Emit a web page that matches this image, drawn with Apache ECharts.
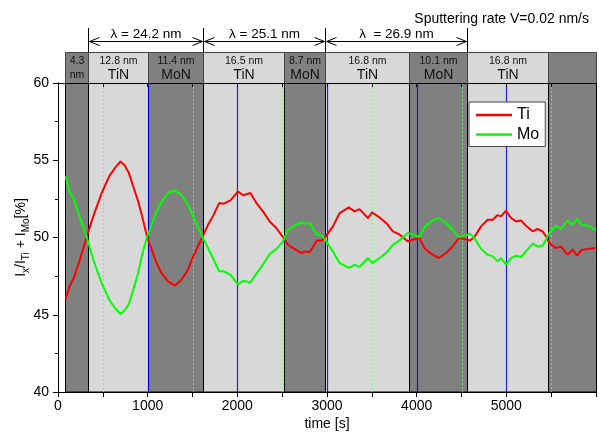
<!DOCTYPE html>
<html><head><meta charset="utf-8">
<script src="https://cdn.jsdelivr.net/npm/echarts@6/dist/echarts.min.js"></script>
<style>html,body{margin:0;padding:0;background:#fff}#c{width:599px;height:436px}</style>
</head><body><div id="c"></div>
<script>
const times = [86,126,178,226,320,393,487,571,635,698,746,791,839,894,943,994,1099,1154,1229,1303,1377,1451,1507,1611,1674,1737,1796,1849,1923,2008,2064,2146,2213,2286,2361,2435,2509,2565,2639,2714,2762,2806,2888,2947,2992,3066,3140,3244,3307,3363,3456,3504,3586,3660,3734,3808,3901,3957,4031,4087,4161,4246,4328,4402,4469,4533,4596,4644,4718,4792,4848,4903,4941,4997,5052,5108,5164,5219,5293,5349,5404,5442,5479,5553,5609,5683,5739,5790,5842,5910,5998];
const tiValues = [46.04,46.8,47.4,48.24,50.03,51.37,52.88,53.96,54.5,54.93,54.65,54.17,53.3,52.34,51.26,50.03,48.35,47.7,47.16,46.88,47.27,47.92,48.78,50.03,50.83,51.48,52.23,52.19,52.4,52.98,52.73,52.88,52.23,51.69,51.04,50.61,50.03,49.53,49.25,49.0,49.1,49.04,49.81,49.81,50.12,50.72,51.58,51.95,51.69,51.84,51.26,51.62,51.3,50.94,50.4,50.2,49.75,49.86,49.97,49.3,48.95,48.67,49.0,49.42,49.97,49.9,49.81,50.03,50.72,51.15,51.15,51.45,51.37,51.73,51.26,51.04,51.1,50.76,50.4,50.55,50.4,50.07,49.64,49.32,49.42,48.89,49.21,48.83,49.21,49.25,49.32];
const moValues = [53.96,52.98,52.5,51.58,50.03,48.56,47.05,45.97,45.44,45.05,45.3,45.7,46.62,47.7,49.0,50.03,51.69,52.3,52.88,53.05,52.77,52.12,51.37,50.03,49.32,48.56,47.81,47.81,47.59,46.95,47.2,47.09,47.66,48.24,48.95,49.25,49.75,50.5,50.76,50.98,50.89,50.93,50.18,50.12,49.75,49.1,48.35,48.03,48.24,48.09,48.67,48.35,48.67,49.0,49.53,49.8,50.29,50.2,50.03,50.68,51.04,51.26,50.94,50.5,50.03,50.12,50.25,49.97,49.25,48.89,48.78,48.46,48.67,48.24,48.67,48.82,48.74,49.1,49.6,49.42,49.46,49.86,50.29,50.76,50.55,51.1,50.83,51.2,50.83,50.76,50.5];

const layerStart = [75,330,1000,1612,2523,2975,3915,4558,5467];
const layerEnd = [330,1000,1612,2523,2975,3915,4558,5467,6000];
const layerType = ['MoN','TiN','MoN','TiN','MoN','TiN','MoN','TiN','MoN'];
const layerThickness = ['4.3','12.8 nm','11.4 nm','16.5 nm','8.7 nm','16.8 nm','10.1 nm','16.8 nm',''];
const layerName = ['nm','TiN','MoN','TiN','MoN','TiN','MoN','TiN',''];

const periodStart = [330,1612,2975];
const periodEnd = [1612,2975,4558];
const periodLabel = ['λ = 24.2 nm','λ = 25.1 nm','λ  = 26.9 nm'];

const majorGrid = [1000,2000,3000,4000,5000];
const minorGrid = [500,1500,2500,3500,4500,5500];

const FONT = 'Liberation Sans';
const chart = echarts.init(document.getElementById('c'), null, {renderer:'canvas'});

const bandSeries = {
  type:'custom', z:1, silent:true, clip:false, xAxisIndex:0, yAxisIndex:0,
  data: layerStart.map((s,i)=>[s, layerEnd[i], i]),
  encode:{x:[0,1]},
  renderItem(params, api){
    const i = api.value(2);
    const x0 = Math.round(api.coord([api.value(0), 50])[0]) + 0.5;
    const x1 = Math.round(api.coord([api.value(1), 50])[0]) + 0.5;
    const cs = params.coordSys;
    const top = cs.y - 31;
    const dark = layerType[i] === 'MoN';
    const fill = dark ? '#808080' : '#d8d8d8';
    const cx = (x0 + x1) / 2;
    const small = layerName[i] === 'nm';
    return {type:'group', children:[
      {type:'rect', shape:{x:x0, y:cs.y, width:x1-x0, height:cs.height}, style:{fill, stroke:'#000', lineWidth:1}},
      {type:'rect', shape:{x:x0, y:top+0.5, width:x1-x0, height:31}, style:{fill, stroke:'#444', lineWidth:1}},
      {type:'text', style:{x:cx, y:top+9, text:layerThickness[i], fontFamily:FONT, fontSize:10.5, fill:'#111', align:'center', verticalAlign:'middle'}},
      {type:'text', style:{x:cx, y:top+23.5, text:layerName[i], fontFamily:FONT, fontSize: small ? 10.5 : 14, fill:'#111', align:'center', verticalAlign:'middle'}}
    ]};
  }
};

const gridLineSeries = {
  type:'custom', z:3, silent:true, clip:false, xAxisIndex:0, yAxisIndex:0,
  data: majorGrid.map(v=>[v,1]).concat(minorGrid.map(v=>[v,0])),
  encode:{x:0},
  renderItem(params, api){
    const x = Math.round(api.coord([api.value(0), 50])[0]) + 0.5;
    const cs = params.coordSys;
    const major = api.value(1) === 1;
    return {type:'line', shape:{x1:x, y1:cs.y, x2:x, y2:cs.y+cs.height},
      style: major ? {stroke:'rgba(0,0,255,0.85)', lineWidth:1.2} : {stroke:'rgba(110,240,110,0.85)', lineWidth:1, lineDash:[2,2]}};
  }
};

const periodSeries = {
  type:'custom', z:3, silent:true, clip:false, xAxisIndex:0, yAxisIndex:0,
  data: periodStart.map((s,i)=>[s, periodEnd[i], i]),
  encode:{x:[0,1]},
  renderItem(params, api){
    const i = api.value(2);
    const x0 = Math.round(api.coord([api.value(0), 50])[0]) + 0.5;
    const x1 = Math.round(api.coord([api.value(1), 50])[0]) + 0.5;
    const cs = params.coordSys;
    const ay = cs.y - 41.5;
    const st = {stroke:'#000', lineWidth:1, fill:null};
    return {type:'group', children:[
      {type:'line', shape:{x1:x0, y1:cs.y-55, x2:x0, y2:cs.y-31}, style:st},
      {type:'line', shape:{x1:x1, y1:cs.y-55, x2:x1, y2:cs.y-31}, style:st},
      {type:'line', shape:{x1:x0+1, y1:ay, x2:x1-1, y2:ay}, style:st},
      {type:'polyline', shape:{points:[[x0+11,ay-4],[x0+1,ay],[x0+11,ay+4]]}, style:st},
      {type:'polyline', shape:{points:[[x1-11,ay-4],[x1-1,ay],[x1-11,ay+4]]}, style:st},
      {type:'text', style:{x:(x0+x1)/2, y:ay-7, text:periodLabel[i], fontFamily:FONT, fontSize:13.5, fill:'#000', align:'center', verticalAlign:'middle'}}
    ]};
  }
};

const option = {
  animation:false,
  backgroundColor:'#fff',
  textStyle:{fontFamily:FONT},
  title:{text:'Sputtering rate V=0.02 nm/s', right:5, top:7, textStyle:{fontFamily:FONT, fontSize:14, fontWeight:'normal', color:'#000'}},
  legend:{
    orient:'vertical', left:469, top:102, padding:[5,6,4,7], itemGap:3.5,
    icon:'rect', itemWidth:36, itemHeight:2.5, backgroundColor:'#fff', borderColor:'#444', borderWidth:1,
    textStyle:{fontFamily:FONT, fontSize:16, lineHeight:16, color:'#000'},
    data:['Ti','Mo']
  },
  grid:{left:58, right:3, top:83, bottom:44, containLabel:false},
  xAxis:[
    {type:'value', min:0, max:6000, interval:1000, position:'bottom', z:10,
     name:'time [s]', nameLocation:'middle', nameGap:25, nameMoveOverlap:false, nameTextStyle:{fontSize:14, color:'#000', fontFamily:FONT},
     axisLine:{lineStyle:{color:'#000', width:1}},
     axisTick:{inside:false, length:5, lineStyle:{color:'#000'}},
     minorTick:{show:true, splitNumber:2, length:5, lineStyle:{color:'#000'}},
     axisLabel:{fontSize:14, color:'#000', margin:7, showMaxLabel:false, fontFamily:FONT, formatter:(v)=>String(v)},
     splitLine:{show:false}},
    {type:'value', min:0, max:6000, interval:1000, position:'top', z:10,
     axisLine:{lineStyle:{color:'#000', width:1}},
     axisTick:{inside:true, length:4, lineStyle:{color:'#000'}},
     minorTick:{show:true, splitNumber:2, length:4, lineStyle:{color:'#000'}},
     axisLabel:{show:false}, splitLine:{show:false}}
  ],
  yAxis:[
    {type:'value', min:40, max:60, interval:5, position:'left', z:10,
     name:'{m|I}{s|x}{m|/I}{s|Ti}{m| + I}{s|Mo}{m|[%]}', nameLocation:'middle', nameGap:27, nameRotate:90, nameMoveOverlap:false,
     nameTextStyle:{fontSize:14, color:'#000', fontFamily:FONT, rich:{
       m:{fontSize:14, fontFamily:FONT, color:'#000', lineHeight:19, verticalAlign:'middle'},
       s:{fontSize:10, fontFamily:FONT, color:'#000', verticalAlign:'bottom'}}},
     axisLine:{lineStyle:{color:'#000', width:1}},
     axisTick:{inside:false, length:5, lineStyle:{color:'#000'}},
     minorTick:{show:true, splitNumber:2, length:3, lineStyle:{color:'#000'}},
     axisLabel:{fontSize:14, color:'#000', margin:9, fontFamily:FONT},
     splitLine:{show:false}},
    {type:'value', min:40, max:60, interval:5, position:'right', z:10,
     axisLine:{lineStyle:{color:'#000', width:1}},
     axisTick:{inside:true, length:5, lineStyle:{color:'#000'}},
     minorTick:{show:true, splitNumber:2, length:3, lineStyle:{color:'#000'}},
     axisLabel:{show:false}, splitLine:{show:false}}
  ],
  series:[
    bandSeries,
    gridLineSeries,
    periodSeries,
    {name:'Ti', type:'line', z:5, xAxisIndex:0, yAxisIndex:0, symbol:'none', color:'#ff0000',
     lineStyle:{color:'#ff0000', width:2}, data: times.map((t,i)=>[t, tiValues[i]])},
    {name:'Mo', type:'line', z:5, xAxisIndex:0, yAxisIndex:0, symbol:'none', color:'#00ff00',
     lineStyle:{color:'#00ff00', width:2}, data: times.map((t,i)=>[t, moValues[i]])}
  ]
};
chart.setOption(option);
</script></body></html>
